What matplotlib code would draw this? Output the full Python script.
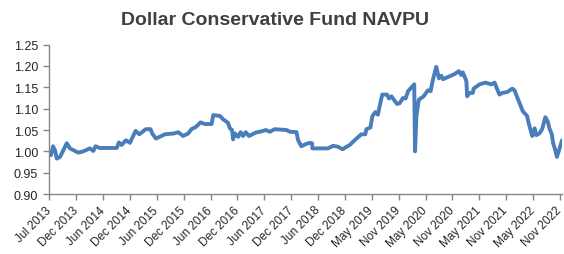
import numpy as np
import matplotlib
matplotlib.use('Agg')
import matplotlib.pyplot as plt
import matplotlib.transforms as mtransforms

plt.rcParams['font.family'] = ['Liberation Sans', 'DejaVu Sans']

# tick labels along the time axis (one per period)
tick_labels = ['Jul 2013', 'Dec 2013', 'Jun 2014', 'Dec 2014', 'Jun 2015', 'Dec 2015',
               'Jun 2016', 'Dec 2016', 'Jun 2017', 'Dec 2017', 'Jun 2018', 'Dec 2018',
               'May 2019', 'Nov 2019', 'May 2020', 'Nov 2020', 'May 2021', 'Nov 2021',
               'May 2022', 'Nov 2022']

# position along the axis, in label periods (0 = Jul 2013, 19 = Nov 2022)
period = [0.00, 0.06, 0.14, 0.21, 0.28, 0.40, 0.65, 0.77, 1.08, 1.26,
          1.51, 1.64, 1.72, 1.88, 2.51, 2.59, 2.69, 2.85, 3.00, 3.21,
          3.35, 3.59, 3.77, 3.83, 3.97, 4.30, 4.64, 4.80, 4.98, 5.17,
          5.29, 5.45, 5.63, 5.79, 6.04, 6.10, 6.35, 6.47, 6.65, 6.72,
          6.80, 6.84, 6.91, 7.03, 7.12, 7.21, 7.31, 7.43, 7.68, 7.90,
          8.06, 8.20, 8.39, 8.83, 8.95, 9.20, 9.26, 9.38, 9.54, 9.69,
          9.78, 9.79, 10.37, 10.56, 10.74, 10.91, 11.18, 11.36, 11.61, 11.76,
          11.80, 11.95, 12.02, 12.13, 12.23, 12.29, 12.39, 12.57, 12.64, 12.73,
          12.94, 13.04, 13.16, 13.26, 13.35, 13.58, 13.61, 13.66, 13.75, 13.93,
          14.09, 14.19, 14.28, 14.40, 14.50, 14.59, 14.65, 14.83, 15.08, 15.24,
          15.33, 15.39, 15.52, 15.55, 15.64, 15.76, 15.79, 16.01, 16.23, 16.45,
          16.57, 16.75, 16.86, 17.04, 17.23, 17.31, 17.62, 17.78, 17.84, 17.97,
          18.06, 18.12, 18.24, 18.34, 18.46, 18.55, 18.61, 18.70, 18.75, 18.83,
          18.89, 19.01, 19.08]

navpu = [0.998, 0.991, 1.012, 1.003, 0.983, 0.987, 1.019, 1.007, 0.997, 1.000,
         1.007, 1.001, 1.012, 1.008, 1.008, 1.021, 1.015, 1.026, 1.020, 1.048,
         1.040, 1.052, 1.052, 1.042, 1.030, 1.040, 1.042, 1.045, 1.036, 1.042,
         1.052, 1.057, 1.068, 1.064, 1.064, 1.085, 1.083, 1.075, 1.067, 1.054,
         1.050, 1.028, 1.042, 1.034, 1.045, 1.036, 1.045, 1.036, 1.044, 1.047,
         1.050, 1.046, 1.052, 1.050, 1.046, 1.045, 1.026, 1.012, 1.017, 1.020,
         1.019, 1.007, 1.007, 1.013, 1.011, 1.005, 1.015, 1.026, 1.040, 1.040,
         1.052, 1.056, 1.082, 1.092, 1.086, 1.105, 1.133, 1.133, 1.124, 1.129,
         1.111, 1.113, 1.125, 1.124, 1.141, 1.157, 1.000, 1.082, 1.121, 1.129,
         1.143, 1.141, 1.169, 1.198, 1.171, 1.177, 1.169, 1.174, 1.181, 1.188,
         1.179, 1.185, 1.165, 1.129, 1.137, 1.137, 1.147, 1.157, 1.161, 1.157,
         1.161, 1.133, 1.137, 1.139, 1.147, 1.143, 1.094, 1.083, 1.066, 1.036,
         1.054, 1.038, 1.042, 1.052, 1.080, 1.070, 1.054, 1.040, 1.019, 1.003,
         0.987, 1.011, 1.026]

yticks = [0.90, 0.95, 1.00, 1.05, 1.10, 1.15, 1.20, 1.25]

fig = plt.figure(figsize=(5.64, 2.55), dpi=100)
ax = fig.add_axes([0.0874, 0.235, 0.9091, 0.586])

ax.plot(period, navpu, color='#4A7EBB', linewidth=2.8, solid_joinstyle='round',
        solid_capstyle='round')

ax.set_xlim(0, 19.08)
ax.set_ylim(0.90, 1.25)
ax.set_yticks(yticks)
ax.set_yticklabels(['%.2f' % v for v in yticks], fontsize=9)
ax.set_xticks(range(len(tick_labels)))
ax.set_xticklabels(tick_labels, rotation=45, ha='right', va='center',
                   rotation_mode='anchor', fontsize=8.5)

# nudge the rotated date labels a little left, as in the source chart
shift = mtransforms.ScaledTranslation(-2 / 100, 0, fig.dpi_scale_trans)
for lbl in ax.get_xticklabels():
    lbl.set_transform(lbl.get_transform() + shift)

for side in ['top', 'right']:
    ax.spines[side].set_visible(False)
for side in ['left', 'bottom']:
    ax.spines[side].set_color('#868686')
    ax.spines[side].set_linewidth(1.0)
ax.tick_params(axis='both', colors='#868686', labelcolor='#262626',
               length=4, width=1.0, direction='out')
ax.tick_params(axis='x', pad=6)
ax.tick_params(axis='y', pad=4)

fig.text(0.488, 0.918, 'Dollar Conservative Fund NAVPU', ha='center', va='center',
         fontsize=14, fontweight='bold', color='#404040')

fig.savefig('out.png', dpi=100)
